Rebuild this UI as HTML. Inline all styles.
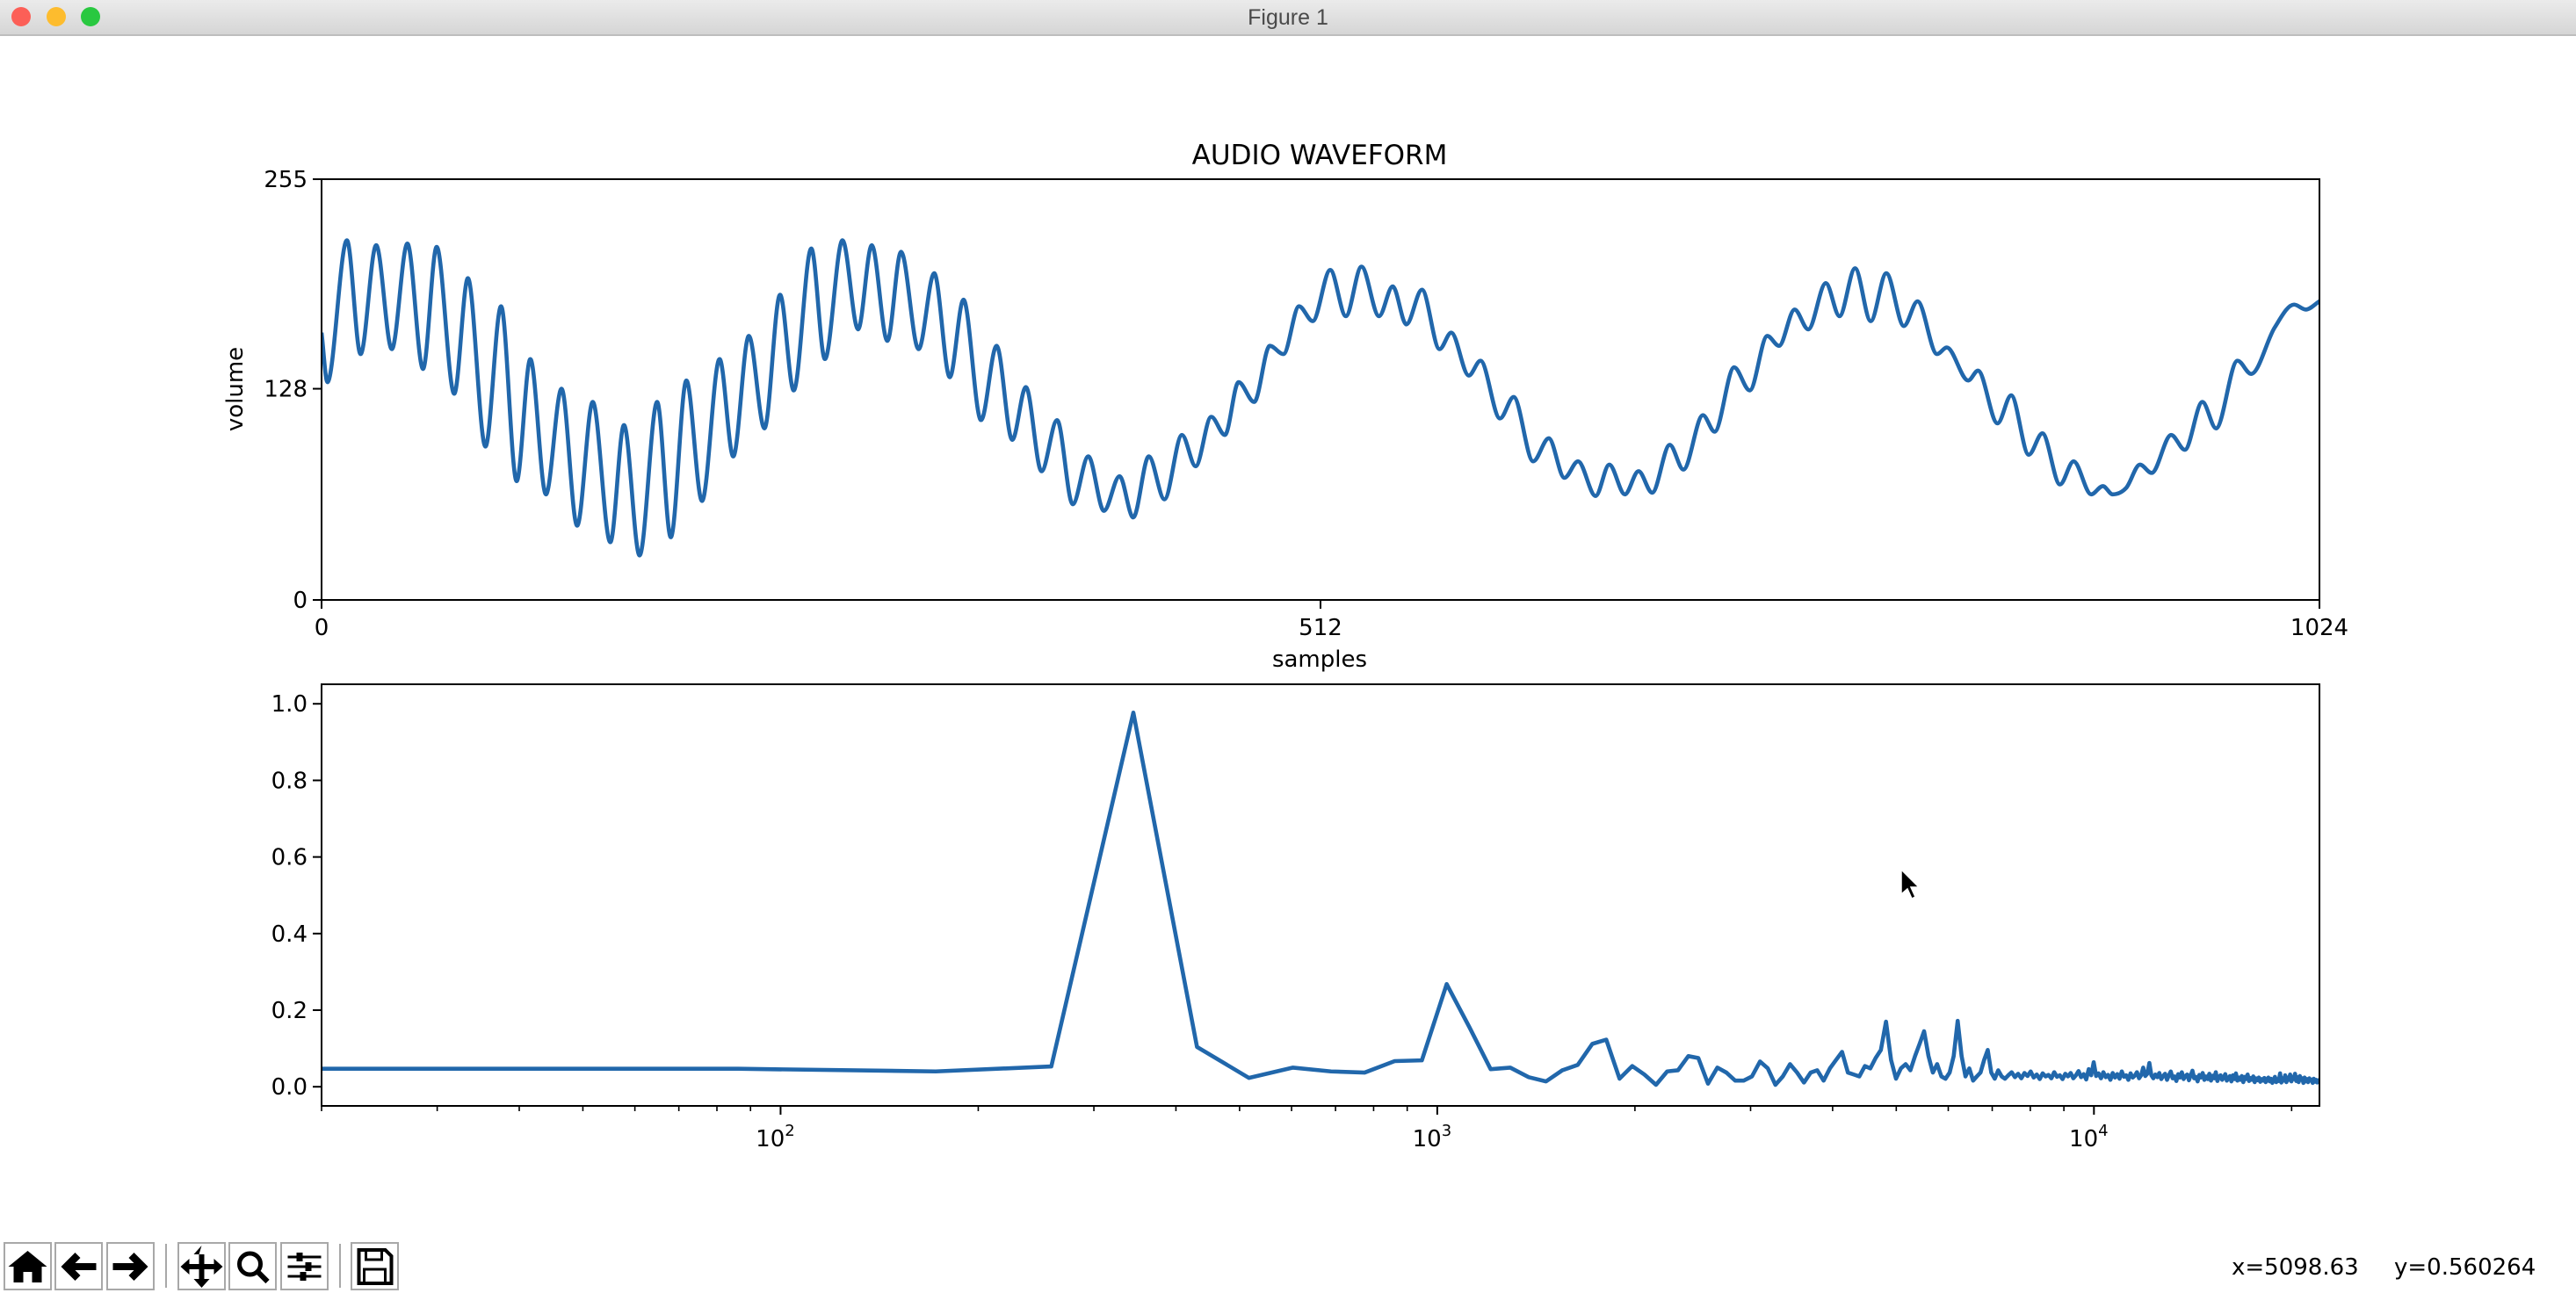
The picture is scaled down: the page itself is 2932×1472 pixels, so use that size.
<!DOCTYPE html>
<html><head><meta charset="utf-8"><style>
html,body{margin:0;padding:0;background:#fff;}
svg{display:block;font-family:"DejaVu Sans","Liberation Sans",sans-serif;}
</style></head><body>
<svg id="fig" width="2932" height="1472" viewBox="0 0 2932 1472" xmlns="http://www.w3.org/2000/svg">
<defs>
<linearGradient id="tb" x1="0" y1="0" x2="0" y2="1"><stop offset="0" stop-color="#ebebeb"/><stop offset="1" stop-color="#d5d5d5"/></linearGradient>
<clipPath id="clipTop"><rect x="366" y="204" width="2274" height="479"/></clipPath>
<clipPath id="clipBot"><rect x="366" y="779" width="2274" height="480"/></clipPath>
</defs>
<g>
<rect x="0" y="0" width="2932" height="40" fill="url(#tb)"/>
<line x1="0" y1="40" x2="2932" y2="40" stroke="#bdbdbd" stroke-width="2"/>
<circle cx="24" cy="19" r="11" fill="#fc5f57"/>
<circle cx="64" cy="19" r="11" fill="#fdbc2e"/>
<circle cx="103" cy="19" r="11" fill="#29c840"/>
<text x="1466" y="28" text-anchor="middle" font-size="25" fill="#4a4a4a" font-family="Liberation Sans, sans-serif">Figure 1</text>
</g>
<text x="1502" y="187" text-anchor="middle" font-size="31" fill="#000">AUDIO WAVEFORM</text>
<g id="topAxes"></g>
<g id="botAxes"></g>
<g id="toolbar"></g>
<text x="2540" y="1451" font-size="26" fill="#000">x=5098.63</text>
<text x="2725" y="1451" font-size="26" fill="#000">y=0.560264</text>
<path d="M2164 990 L2164 1018 L2171 1012 L2176 1023 L2180 1021 L2175 1010 L2184 1010 Z" fill="#000" stroke="#fff" stroke-width="1.5"/>
</svg>
<script>
// ---------- waveform data (extrema of the signal) ----------
const waveSamples = [0,3,13,20,28,36,44,52,59,68,75,84,92,100,107,115,123,131,139,148,155,163,172,179,187,195,204,211,219,227,235,242,251,258,267,275,282,290,297,306,314,322,329,338,346,354,361,369,377,385,393,401,409,416,424,432,441,448,456,463,470,478,486,493,501,508,517,525,533,542,549,556,564,573,579,588,594,604,611,621,629,637,644,653,660,668,675,682,691,698,708,714,724,732,741,747,755,762,771,778,786,794,802,811,818,828,833,844,849,859,866,875,882,891,898,907,913,918,925,932,938,948,955,964,971,982,989,1001,1011,1017,1024];
const waveValues = [162,132,218,149,215,152,216,140,214,125,195,93,178,72,146,64,128,45,120,35,106,27,120,38,133,60,146,87,160,104,185,127,213,146,218,164,215,157,211,152,198,135,182,109,154,97,129,78,109,58,87,54,75,50,87,61,100,81,111,100,132,120,154,149,178,169,200,172,202,172,190,167,188,152,162,136,145,110,123,84,98,74,84,63,82,64,78,65,94,79,112,102,141,127,160,154,176,164,192,172,201,169,198,166,181,149,153,133,139,107,124,88,101,70,84,64,69,64,68,82,77,100,91,120,104,145,137,165,179,176,181];
const waveYTicks = [0,128,255];
const waveXTicks = [0,512,1024];

// ---------- spectrum data ----------
const sampleRate = 44100;
const binWidth = sampleRate / 512;
const specLow = [0.047,0.047,0.040,0.053,0.977,0.104,0.023,0.050,0.040,0.037,0.067,0.069,0.268,0.155,0.046,0.050,0.025,0.014,0.043,0.057,0.112,0.123,0.021,0.054,0.032,0.005,0.040,0.043,0.080,0.075,0.008,0.050,0.037,0.016,0.016,0.027,0.066,0.048,0.005,0.027,0.059,0.037,0.011,0.037,0.043,0.016,0.048,0.070,0.091,0.037,0.032,0.027,0.054,0.048,0.075,0.096,0.170,0.070,0.021,0.048,0.059,0.043,0.080,0.112,0.145,0.080,0.037,0.059,0.027,0.021,0.037,0.080,0.172,0.080,0.027,0.048,0.016,0.027,0.037,0.070,0.096,0.037,0.021,0.043,0.027,0.021];
const specHigh = [0.030,0.038,0.025,0.034,0.022,0.036,0.028,0.040,0.024,0.032,0.020,0.035,0.027,0.031,0.022,0.038,0.026,0.030,0.020,0.034,
0.027,0.036,0.022,0.030,0.041,0.025,0.033,0.019,0.046,0.030,0.064,0.028,0.035,0.022,0.038,0.025,0.031,0.018,0.036,0.024,
0.033,0.021,0.040,0.026,0.030,0.018,0.035,0.024,0.029,0.038,0.022,0.030,0.050,0.028,0.034,0.062,0.030,0.022,0.032,0.025,
0.036,0.020,0.028,0.034,0.018,0.030,0.040,0.022,0.027,0.015,0.033,0.024,0.038,0.020,0.028,0.032,0.017,0.030,0.042,0.022,
0.026,0.014,0.031,0.024,0.036,0.018,0.027,0.020,0.034,0.016,0.029,0.022,0.038,0.015,0.026,0.030,0.018,0.024,0.033,0.016,
0.022,0.028,0.014,0.030,0.020,0.035,0.016,0.024,0.018,0.028,0.012,0.026,0.020,0.032,0.015,0.023,0.018,0.027,0.012,0.022,
0.017,0.024,0.013,0.020,0.016,0.023,0.012,0.019,0.024,0.014,0.021,0.010,0.018,0.026,0.012,0.020,0.015,0.035,0.011,0.022,
0.016,0.030,0.012,0.024,0.018,0.032,0.014,0.026,0.020,0.034,0.015,0.025,0.012,0.028,0.018,0.022,0.010,0.024,0.014,0.020,
0.012,0.022,0.016,0.019,0.010,0.021,0.013,0.018,0.011,0.017,0.015];
const specYTicks = [0.0,0.2,0.4,0.6,0.8,1.0];
const specYTickLabels = ["0.0","0.2","0.4","0.6","0.8","1.0"];
const specXDecades = [2,3,4];

const NS = "http://www.w3.org/2000/svg";
const BLUE = "#2167ab";
function mk(tag, attrs, parent){const e=document.createElementNS(NS,tag);for(const k in attrs)e.setAttribute(k,attrs[k]);parent.appendChild(e);return e;}

// ---------- top axes ----------
const T = {x0:366,x1:2640,y0:683,y1:204};
const wx = s => T.x0 + (s-0)/(1024-0)*(T.x1-T.x0);
const wy = v => T.y0 - (v-0)/(255-0)*(T.y0-T.y1);
const topG = document.getElementById('topAxes');

function monoPath(xs, ys){
  const n=Math.min(xs.length, ys.length), m=new Array(n), d=[];
  for(let i=0;i<n-1;i++) d.push((ys[i+1]-ys[i])/(xs[i+1]-xs[i]));
  m[0]=d[0]; m[n-1]=d[n-2];
  for(let i=1;i<n-1;i++){ m[i] = (d[i-1]*d[i]<=0)?0:(d[i-1]+d[i])/2; }
  for(let i=0;i<n-1;i++){ if(d[i]===0){m[i]=0;m[i+1]=0;continue;} const a=m[i]/d[i],b=m[i+1]/d[i],h=a*a+b*b; if(h>9){const t=3/Math.sqrt(h);m[i]=t*a*d[i];m[i+1]=t*b*d[i];} }
  let p = `M${xs[0].toFixed(2)},${ys[0].toFixed(2)}`;
  for(let i=0;i<n-1;i++){const h=(xs[i+1]-xs[i])/3; p+=` C${(xs[i]+h).toFixed(2)},${(ys[i]+m[i]*h).toFixed(2)} ${(xs[i+1]-h).toFixed(2)},${(ys[i+1]-m[i+1]*h).toFixed(2)} ${xs[i+1].toFixed(2)},${ys[i+1].toFixed(2)}`;}
  return p;
}
const wl = mk('path',{d:monoPath(waveSamples.map(wx),waveValues.map(wy)),fill:'none',stroke:BLUE,'stroke-width':4.6,'stroke-linejoin':'round','clip-path':'url(#clipTop)'},topG);


const tf = mk('rect',{x:T.x0,y:T.y1,width:T.x1-T.x0,height:T.y0-T.y1,fill:'none',stroke:'#000','stroke-width':2},topG);


waveYTicks.forEach(v=>{
  mk('line',{x1:T.x0-10,x2:T.x0,y1:wy(v),y2:wy(v),stroke:'#000','stroke-width':2},topG);
  const t=mk('text',{x:T.x0-16,y:wy(v)+9,'text-anchor':'end','font-size':26},topG); t.textContent=v;
  
  
});
waveXTicks.forEach(v=>{
  mk('line',{x1:wx(v),x2:wx(v),y1:T.y0,y2:T.y0+10,stroke:'#000','stroke-width':2},topG);
  const t=mk('text',{x:wx(v),y:T.y0+40,'text-anchor':'middle','font-size':26},topG); t.textContent=v;
  
  
});
const yl=mk('text',{x:0,y:0,transform:'translate(276,443) rotate(-90)','text-anchor':'middle','font-size':26},topG); yl.textContent='volume';


const xl=mk('text',{x:1502,y:759,'text-anchor':'middle','font-size':26},topG); xl.textContent='samples';



// ---------- bottom axes ----------
const B = {x0:366,x1:2640,yTop:779,yBot:1259,lmin:Math.log10(20),lmax:Math.log10(22050),vmin:-0.05,vmax:1.051};
const fx = f => B.x0 + (Math.log10(f)-B.lmin)/(B.lmax-B.lmin)*(B.x1-B.x0);
const fy = v => B.yBot - (v-B.vmin)/(B.vmax-B.vmin)*(B.yBot-B.yTop);
const botG = document.getElementById('botAxes');
const specValues = specLow.concat(specHigh);
const freqs = specValues.map((v,k)=> k===0 ? 10 : k*binWidth);
let sp='';
specValues.forEach((v,k)=>{ sp += (k?' L':'M') + fx(freqs[k]).toFixed(2)+','+fy(v).toFixed(2); });
const sl = mk('path',{d:sp,fill:'none',stroke:BLUE,'stroke-width':4.6,'stroke-linejoin':'round','clip-path':'url(#clipBot)'},botG);


const bf = mk('rect',{x:B.x0,y:B.yTop,width:B.x1-B.x0,height:B.yBot-B.yTop,fill:'none',stroke:'#000','stroke-width':2},botG);


specYTicks.forEach((v,i)=>{
  mk('line',{x1:B.x0-10,x2:B.x0,y1:fy(v),y2:fy(v),stroke:'#000','stroke-width':2},botG);
  const t=mk('text',{x:B.x0-16,y:fy(v)+9,'text-anchor':'end','font-size':26},botG); t.textContent=specYTickLabels[i];
  
  
});
for(let d=1; d<=4; d++){ for(let m=2;m<=9;m++){ const f=m*Math.pow(10,d); if(f<20||f>22050) continue;
  mk('line',{x1:fx(f),x2:fx(f),y1:B.yBot,y2:B.yBot+6,stroke:'#000','stroke-width':1.6},botG);} }
specXDecades.forEach(d=>{
  const x=fx(Math.pow(10,d));
  mk('line',{x1:x,x2:x,y1:B.yBot,y2:B.yBot+10,stroke:'#000','stroke-width':2},botG);
  const t=mk('text',{x:x-6,y:B.yBot+46,'text-anchor':'middle','font-size':26},botG);
  
  
  t.textContent='10';
  const s=mk('tspan',{dy:-12,'font-size':18},t); s.textContent=String(d);
});

// ---------- toolbar ----------
const tbG=document.getElementById('toolbar');
const btnX=[5,63,122,203,261,320,400];
const btnNames=['home-button','back-button','forward-button','pan-button','zoom-rect-button','configure-subplots-button','save-button'];
btnX.forEach((x,i)=>{
  const g=mk('g',{},tbG);
  
  
  mk('rect',{x:x,y:1415,width:53,height:53,fill:'#fff',stroke:'#a8a8a8','stroke-width':2},g);
  const cx=x+26.5, cy=1442;
  if(i===0){ mk('path',{d:`M${cx-22},${cy} L${cx},${cy-18} L${cx+22},${cy} L${cx+16},${cy} L${cx+16},${cy+18} L${cx+5},${cy+18} L${cx+5},${cy+6} L${cx-5},${cy+6} L${cx-5},${cy+18} L${cx-16},${cy+18} L${cx-16},${cy} Z`,fill:'#000'},g); }
  if(i===1){ mk('path',{d:`M${cx-20},${cy} L${cx-4},${cy-16} L${cx+2},${cy-10} L${cx-4},${cy-4} L${cx+20},${cy-4} L${cx+20},${cy+4} L${cx-4},${cy+4} L${cx+2},${cy+10} L${cx-4},${cy+16} Z`,fill:'#000'},g); }
  if(i===2){ mk('path',{d:`M${cx+20},${cy} L${cx+4},${cy-16} L${cx-2},${cy-10} L${cx+4},${cy-4} L${cx-20},${cy-4} L${cx-20},${cy+4} L${cx+4},${cy+4} L${cx-2},${cy+10} L${cx+4},${cy+16} Z`,fill:'#000'},g); }
  if(i===3){ mk('path',{d:`M${cx-3},${cy-14} h6 v11 h11 v-6 l10,9 l-10,9 v-6 h-11 v11 h6 l-9,10 l-9,-10 h6 v-11 h-11 v6 l-10,-9 l10,-9 v6 h11 v-11 h-6 l9,-10 z`,fill:'#000'},g); }
  if(i===4){ mk('circle',{cx:cx-3,cy:cy-3,r:12,fill:'none',stroke:'#000','stroke-width':5},g); mk('line',{x1:cx+6,y1:cy+6,x2:cx+17,y2:cy+17,stroke:'#000','stroke-width':6},g); }
  if(i===5){ [-11,0,11].forEach((dy,j)=>{ mk('line',{x1:cx-19,x2:cx+19,y1:cy+dy,y2:cy+dy,stroke:'#000','stroke-width':3},g); mk('rect',{x:cx+[-6,4,-2][j]-3,y:cy+dy-5,width:7,height:10,fill:'#000'},g);}); }
  if(i===6){ mk('path',{d:`M${cx-18},${cy-19} h30 l7,7 v31 h-37 z`,fill:'none',stroke:'#000','stroke-width':4},g); mk('rect',{x:cx-10,y:cy-19,width:18,height:11,fill:'none',stroke:'#000','stroke-width':3},g); mk('rect',{x:cx-12,y:cy+3,width:24,height:16,fill:'none',stroke:'#000','stroke-width':3},g); }
});
[189,387].forEach(x=>{ const s=mk('line',{x1:x,x2:x,y1:1416,y2:1466,stroke:'#a8a8a8','stroke-width':2},tbG);
  
   });
</script>
</body></html>
